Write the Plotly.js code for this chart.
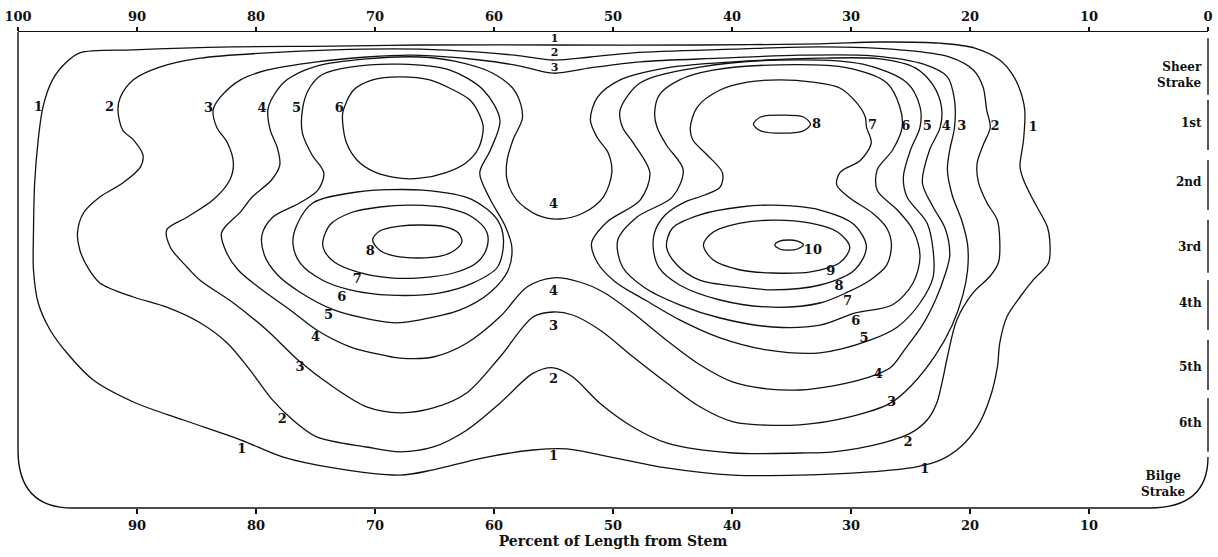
<!DOCTYPE html>
<html><head><meta charset="utf-8">
<script src="https://cdn.plot.ly/plotly-3.0.1.min.js"></script>
<style>html,body{margin:0;padding:0;background:#fff}#chart{width:1218px;height:557px}</style>
</head><body><div id="chart"></div>
<script>
// x = percent of length from stem, y = girth position in strake units (0 = sheer strake, 7 = bilge strake)
const contour1 = [[94.8,-0.17],[90.3,-0.22],[81.9,-0.27],[73.5,-0.28],[66.2,-0.30],[55.0,-0.30],[42.7,-0.30],[32.6,-0.32],[27.6,-0.35],[22.5,-0.33],[19.6,-0.25],[17.5,-0.05],[16.4,0.20],[15.8,0.45],[15.4,0.78],[15.5,1.28],[15.8,1.73],[15.5,1.95],[14.7,2.28],[13.5,2.73],[13.3,2.95],[13.4,3.33],[14.7,3.62],[15.8,3.90],[16.9,4.23],[17.5,4.67],[17.7,5.07],[18.3,5.57],[19.4,6.07],[20.8,6.40],[22.5,6.62],[24.5,6.73],[28.7,6.82],[34.3,6.87],[39.9,6.87],[45.5,6.75],[51.1,6.53],[53.9,6.43],[56.7,6.45],[60.9,6.58],[65.1,6.78],[67.9,6.87],[73.5,6.75],[77.7,6.57],[81.3,6.28],[86.1,5.95],[90.3,5.65],[93.7,5.28],[95.9,4.83],[97.3,4.45],[98.3,4.00],[98.7,3.45],[98.7,2.83],[98.6,2.00],[98.3,1.28],[97.9,0.73],[97.1,0.28],[95.9,-0.02]];
const contour2 = [[25.9,-0.22],[21.7,-0.10],[19.7,0.12],[18.9,0.40],[18.6,0.78],[18.3,1.07],[18.9,1.37],[19.4,1.67],[19.3,1.98],[18.6,2.32],[17.7,2.62],[17.5,2.95],[17.6,3.32],[18.3,3.55],[19.7,3.82],[21.1,4.28],[21.9,4.90],[22.3,5.28],[22.8,5.67],[23.6,5.95],[25.0,6.17],[27.3,6.33],[31.5,6.48],[34.3,6.50],[39.9,6.50],[45.5,6.33],[48.3,6.07],[51.1,5.67],[53.4,5.23],[55.0,5.08],[56.7,5.17],[59.5,5.67],[62.3,6.12],[65.1,6.40],[67.9,6.48],[70.7,6.40],[74.9,6.23],[76.9,5.95],[78.6,5.62],[80.5,5.12],[82.4,4.67],[84.7,4.33],[87.5,4.07],[90.3,3.90],[93.1,3.67],[94.1,3.42],[94.8,3.12],[95.0,2.83],[94.5,2.50],[93.1,2.23],[91.2,2.00],[89.7,1.73],[89.5,1.53],[90.3,1.28],[91.2,1.12],[91.6,0.78],[91.4,0.57],[90.3,0.28],[88.1,0.07],[84.7,-0.08],[79.1,-0.17],[73.5,-0.22],[66.2,-0.23],[61.2,-0.18],[57.8,-0.12],[55.0,-0.05],[51.9,-0.10],[48.3,-0.17],[39.9,-0.23],[32.6,-0.27]];
const contour3 = [[83.6,0.78],[83.0,0.57],[81.3,0.28],[79.1,0.12],[74.9,-0.02],[70.7,-0.10],[66.8,-0.13],[61.2,-0.05],[57.8,0.05],[55.0,0.17],[51.9,0.08],[47.7,-0.02],[41.0,-0.08],[34.3,-0.13],[28.2,-0.12],[23.9,0.02],[21.9,0.23],[21.3,0.62],[21.3,1.07],[21.7,1.45],[21.9,1.78],[21.5,2.20],[20.7,2.62],[20.2,3.03],[20.2,3.45],[20.6,3.87],[21.5,4.37],[22.9,4.87],[24.9,5.37],[26.7,5.67],[30.1,5.90],[34.3,6.03],[39.9,5.98],[42.7,5.73],[45.5,5.33],[48.3,4.90],[51.1,4.45],[53.4,4.20],[55.0,4.15],[56.7,4.23],[59.5,4.90],[62.3,5.50],[65.1,5.75],[67.9,5.83],[70.7,5.73],[73.5,5.40],[76.3,4.98],[79.1,4.45],[81.9,4.00],[84.7,3.62],[85.8,3.40],[87.2,3.07],[87.5,2.78],[85.8,2.57],[83.6,2.28],[82.2,1.95],[81.9,1.67],[82.4,1.33],[83.3,1.07]];
const contour4 = [[82.9,2.83],[81.3,2.48],[80.3,2.23],[78.7,1.95],[78.0,1.70],[78.2,1.42],[78.8,1.12],[79.0,0.78],[78.6,0.57],[77.4,0.28],[74.9,0.05],[70.7,-0.07],[66.2,-0.10],[63.3,-0.03],[60.1,0.17],[58.2,0.48],[57.6,0.90],[58.4,1.28],[58.9,1.62],[58.9,1.95],[58.1,2.28],[56.4,2.53],[54.5,2.60],[52.5,2.50],[50.8,2.23],[50.1,1.83],[50.4,1.50],[51.3,1.25],[51.9,0.95],[51.3,0.57],[49.4,0.28],[45.5,0.08],[39.9,-0.02],[32.6,-0.08],[27.6,-0.07],[24.6,0.08],[23.1,0.37],[22.4,0.73],[22.5,1.07],[23.4,1.45],[24.0,2.00],[23.1,2.40],[22.1,2.75],[21.7,3.20],[22.1,3.53],[22.9,3.95],[24.0,4.37],[25.5,4.78],[26.7,5.08],[28.7,5.25],[31.5,5.38],[34.3,5.45],[37.1,5.43],[39.9,5.32],[42.7,5.03],[45.5,4.62],[48.3,4.17],[50.8,3.82],[52.8,3.65],[55.0,3.58],[57.2,3.73],[59.5,4.23],[62.3,4.67],[65.1,4.90],[67.9,4.92],[69.3,4.87],[72.1,4.73],[74.9,4.45],[77.1,4.12],[79.5,3.78],[81.5,3.45],[82.5,3.15]];
const contour5Left = [[76.1,0.78],[75.6,0.45],[74.5,0.20],[72.1,0.07],[67.9,0.02],[63.7,0.12],[60.9,0.45],[59.5,0.95],[60.3,1.45],[61.2,1.83],[60.3,2.28],[59.1,2.70],[58.5,3.07],[58.8,3.45],[60.3,3.82],[62.9,4.12],[66.2,4.28],[68.2,4.33],[70.2,4.28],[73.4,4.12],[76.3,3.82],[78.2,3.53],[79.3,3.20],[79.5,2.87],[78.6,2.57],[76.3,2.33],[74.8,2.12],[74.3,1.83],[75.3,1.53],[76.1,1.17]];
const contour5Right = [[49.2,1.07],[49.4,0.78],[47.7,0.33],[42.7,0.07],[36.0,-0.05],[29.0,0.02],[25.3,0.33],[24.2,0.73],[24.2,1.07],[25.0,1.45],[25.6,1.90],[25.3,2.23],[23.6,2.67],[23.1,3.12],[23.1,3.57],[24.2,4.00],[26.1,4.40],[28.4,4.62],[32.6,4.83],[37.1,4.78],[41.0,4.58],[44.4,4.28],[47.3,3.95],[49.8,3.65],[51.3,3.33],[51.8,3.00],[50.5,2.65],[47.7,2.28],[46.9,1.83],[48.3,1.33]];
const contour6UpperLeft = [[72.7,0.82],[71.8,0.45],[70.2,0.28],[67.9,0.23],[65.4,0.28],[63.7,0.42],[62.0,0.62],[61.2,0.87],[60.9,1.08],[61.3,1.42],[62.4,1.67],[64.1,1.83],[66.2,1.92],[67.9,1.92],[70.0,1.82],[71.5,1.62],[72.4,1.33],[72.7,1.03]];
const contour6LowerLeft = [[76.9,3.00],[76.5,2.67],[75.2,2.33],[71.5,2.15],[66.0,2.12],[61.8,2.28],[59.7,2.62],[59.2,2.95],[59.7,3.40],[61.8,3.67],[64.5,3.83],[68.7,3.87],[72.1,3.78],[74.4,3.62],[76.3,3.33]];
const contour6Right = [[46.3,1.07],[46.5,0.83],[46.1,0.53],[44.4,0.28],[41.6,0.12],[36.0,0.03],[30.3,0.08],[27.0,0.33],[25.9,0.73],[25.7,1.07],[26.5,1.45],[27.8,1.78],[27.8,2.12],[26.1,2.45],[24.8,2.78],[24.2,3.23],[24.8,3.67],[26.5,4.03],[29.7,4.17],[32.6,4.37],[36.6,4.40],[41.0,4.25],[44.4,4.03],[47.3,3.75],[49.2,3.40],[49.6,2.95],[48.0,2.57],[45.0,2.23],[44.1,1.78],[45.5,1.37]];
const contour7Left = [[74.4,3.00],[73.8,2.70],[72.1,2.50],[69.6,2.40],[66.8,2.37],[63.9,2.42],[61.8,2.57],[60.6,2.82],[60.6,3.08],[61.4,3.32],[63.4,3.50],[66.2,3.58],[68.7,3.58],[71.5,3.48],[73.4,3.32],[74.2,3.15]];
const contour7Right = [[43.5,1.07],[42.9,0.73],[41.0,0.45],[38.7,0.32],[36.0,0.28],[33.2,0.32],[30.9,0.42],[29.5,0.67],[28.8,0.90],[28.7,1.07],[28.3,1.33],[29.2,1.62],[30.9,1.82],[31.2,2.03],[30.1,2.25],[28.2,2.50],[27.0,2.75],[26.6,3.03],[27.0,3.37],[28.4,3.62],[30.3,3.82],[32.6,4.00],[36.6,4.07],[41.0,3.95],[44.4,3.70],[46.1,3.42],[46.6,3.12],[46.5,2.82],[45.6,2.53],[44.1,2.33],[42.3,2.20],[41.0,2.07],[40.8,1.83],[42.1,1.53],[43.3,1.28]];
const contour8Left = [[70.2,2.95],[69.6,2.80],[67.9,2.72],[66.2,2.70],[64.1,2.73],[63.0,2.83],[62.7,2.98],[63.3,3.12],[64.5,3.22],[66.4,3.25],[68.3,3.22],[69.6,3.12]];
const contour8UpperRight = [[38.2,1.02],[37.6,0.90],[35.8,0.87],[34.0,0.90],[33.4,1.02],[34.0,1.13],[35.8,1.17],[37.6,1.13]];
const contour8LowerRight = [[45.5,3.07],[45.0,2.75],[42.7,2.53],[39.3,2.40],[36.6,2.37],[32.6,2.45],[29.7,2.70],[28.7,3.07],[29.7,3.45],[32.6,3.70],[36.6,3.78],[39.3,3.73],[42.7,3.62],[44.6,3.37]];
const contour9 = [[42.4,3.03],[41.6,2.82],[39.3,2.67],[36.6,2.62],[33.4,2.67],[31.1,2.82],[30.1,3.07],[30.9,3.32],[33.4,3.48],[36.6,3.50],[39.3,3.45],[41.6,3.28]];
const contour10 = [[36.4,3.03],[36.0,2.97],[35.2,2.95],[34.5,2.97],[34.0,3.03],[34.5,3.10],[35.2,3.12],[36.0,3.10]];

const contourLoops = [contour1, contour2, contour3, contour4, contour5Left, contour5Right,
  contour6UpperLeft, contour6LowerLeft, contour6Right, contour7Left, contour7Right,
  contour8Left, contour8UpperRight, contour8LowerRight, contour9, contour10];
const contourLevels = [1, 2, 3, 4, 5, 5, 6, 6, 6, 7, 7, 8, 8, 8, 9, 10];

// contour numbers written on the chart
const labelText = ['1','2','3','4','5','6', '8','7','6','5','4','3','2','1',
  '1','2','3','4','4','3','2','1',
  '8','7','6','5','4','3','2','1',
  '10','9','8','7','6','5','4','3','2','1'];
const labelX = [98.3,92.3,84.0,79.5,76.6,73.0, 70.4,71.5,72.8,73.9,75.0,76.3,77.8,81.2,
  54.9,54.9,54.9,55.0,55.0,55.0,55.0,55.0,
  32.9,28.2,25.4,23.6,22.0,20.7,17.9,14.7,
  33.2,31.7,31.0,30.3,29.6,28.9,27.7,26.6,25.2,23.8];
const labelY = [0.75,0.75,0.77,0.77,0.77,0.77, 3.15,3.62,3.92,4.22,4.58,5.08,5.95,6.45,
  -0.40,-0.16,0.09,2.37,3.82,4.40,5.28,6.57,
  1.03,1.05,1.07,1.07,1.07,1.07,1.07,1.08,
  3.13,3.48,3.73,3.98,4.32,4.60,5.20,5.67,6.33,6.78];
// the three numbers squeezed between the converging lines at the top centre
const crowdedLabels = [14, 15, 16];

// strake names along the right edge
const strakeNames = ['Sheer<br>Strake','1st','2nd','3rd','4th','5th','6th'];
const strakeY = [0.2, 1.0, 1.98, 3.07, 4.0, 5.07, 6.0];
const bilgeName = 'Bilge<br>Strake';
const bilgeY = 7.02;

const bottomTicks = [90,80,70,60,50,40,30,20,10];
const topTicks = [100,90,80,70,60,50,40,30,20,10,0];

const F = 'DejaVu Serif';
const INK = '#111';

const traces = contourLoops.map((pts, i) => {
  const x = pts.map(p => p[0]); x.push(pts[0][0]);
  const y = pts.map(p => p[1]); y.push(pts[0][1]);
  return {type:'scatter', mode:'lines', x, y, name:'Level ' + contourLevels[i],
    line:{color:INK, width:1.3, shape:'spline', smoothing:0.9},
    hoverinfo:'skip', showlegend:false};
});
const labelSizes = labelText.map((t, i) => crowdedLabels.includes(i) ? 11 : 13);
traces.push({type:'scatter', mode:'text', x:labelX, y:labelY, text:labelText,
  xaxis:'x2', yaxis:'y', textposition:'middle center',
  textfont:{family:F, size:labelSizes, color:INK, weight:'bold'}, hoverinfo:'skip', showlegend:false});

const annotations = strakeNames.map((t, i) => ({
  text:t, x:0.3, y:strakeY[i], xref:'x', yref:'y', xanchor:'right', yanchor:'middle',
  align:'right', showarrow:false, font:{family:F, size:12, color:INK, weight:'bold'}
}));
annotations.push({text:bilgeName, x:3.7, y:bilgeY, xref:'x', yref:'y', xanchor:'center', yanchor:'middle',
  align:'center', showarrow:false, font:{family:F, size:12, color:INK, weight:'bold'}});

const frameLine = {color:INK, width:1.4};
const rightSegs = [[0.987,0.868],[0.857,0.752],[0.731,0.626],[0.605,0.494],[0.479,0.374],[0.353,0.248],[0.231,0.118]];
const shapes = [
  {type:'path', xref:'paper', yref:'paper', path:'M 0 1 L 0 0.122 Q 0 0 0.046 0 L 0.951 0 Q 1 0 1 0.107', line:frameLine}
];
rightSegs.forEach(s => shapes.push({type:'line', xref:'paper', yref:'paper', x0:1, x1:1, y0:s[0], y1:s[1], line:frameLine}));

const tickFont = {family:F, size:13, color:INK, weight:'bold'};
const layout = {
  width:1218, height:557,
  margin:{l:18, r:10, t:32, b:49},
  paper_bgcolor:'#fff', plot_bgcolor:'#fff',
  showlegend:false,
  xaxis:{range:[100,0], tickvals:bottomTicks, ticks:'outside', ticklen:5, tickwidth:1.3, tickcolor:INK,
    showgrid:false, zeroline:false, showline:false, tickfont:tickFont,
    title:{text:'Percent of Length from Stem', font:{family:F, size:14, color:INK, weight:'bold'}, standoff:4}},
  xaxis2:{overlaying:'x', side:'top', anchor:'y', range:[100,0], tickvals:topTicks, ticks:'outside', ticklen:4,
    tickwidth:1.3, tickcolor:INK, showline:true, linecolor:INK, linewidth:1.4,
    showgrid:false, zeroline:false, tickfont:tickFont},
  yaxis:{range:[7.417,-0.517], visible:false, showgrid:false, zeroline:false},
  shapes, annotations
};
Plotly.newPlot('chart', traces, layout, {displayModeBar:false, staticPlot:true});
</script></body></html>
